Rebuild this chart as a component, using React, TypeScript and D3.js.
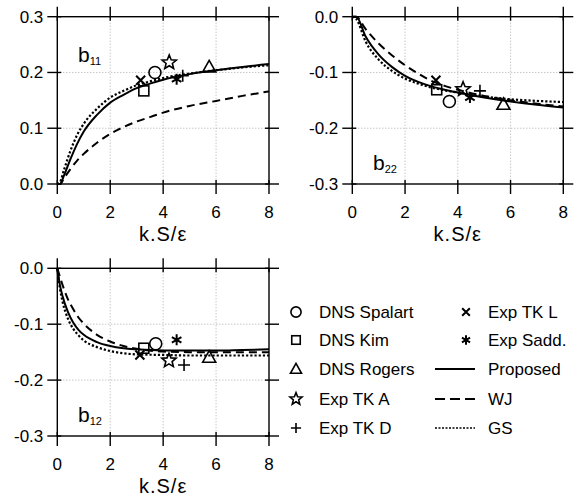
import React from "react";
import * as d3 from "d3";

// ---------- data ----------
const xTicks = [0, 2, 4, 6, 8];
const yTicksB11 = [0.0, 0.1, 0.2, 0.3];
const yTicksNeg = [0.0, -0.1, -0.2, -0.3];

// b11 curves
const b11X = [0, 0.1, 0.25, 0.5, 0.75, 1, 1.5, 2, 2.5, 3, 3.5, 4, 5, 6, 7, 8];
const b11Proposed = [0, 0, 0.015, 0.045, 0.072, 0.094, 0.124, 0.146, 0.16, 0.172, 0.18, 0.187, 0.197, 0.204, 0.21, 0.215];
const b11GS = [0, 0.003, 0.025, 0.06, 0.088, 0.108, 0.135, 0.155, 0.167, 0.177, 0.184, 0.19, 0.198, 0.204, 0.209, 0.213];
const b11WJ = [0, 0, 0.01, 0.027, 0.042, 0.054, 0.074, 0.09, 0.102, 0.112, 0.12, 0.128, 0.14, 0.149, 0.158, 0.166];

// b22 curves
const b22X = [0, 0.15, 0.5, 1, 1.5, 2, 2.5, 3, 3.5, 4, 5, 6, 7, 8];
const b22Proposed = [0, 0, -0.035, -0.068, -0.09, -0.106, -0.117, -0.125, -0.131, -0.136, -0.145, -0.152, -0.158, -0.163];
const b22GS = [0, -0.004, -0.044, -0.077, -0.097, -0.111, -0.12, -0.127, -0.132, -0.136, -0.143, -0.148, -0.151, -0.153];
const b22WJ = [0, 0, -0.022, -0.048, -0.069, -0.087, -0.102, -0.115, -0.124, -0.131, -0.142, -0.15, -0.156, -0.161];

// b12 curves
const b12X = [0, 0.1, 0.2, 0.4, 0.6, 0.8, 1, 1.5, 2, 2.5, 3, 4, 5, 6, 7, 8];
const b12Proposed = [0, -0.03, -0.05, -0.078, -0.097, -0.11, -0.119, -0.132, -0.139, -0.143, -0.145, -0.147, -0.147, -0.147, -0.146, -0.145];
const b12GS = [0, -0.036, -0.06, -0.09, -0.108, -0.12, -0.129, -0.141, -0.148, -0.152, -0.154, -0.155, -0.156, -0.156, -0.156, -0.156];
const b12WJ = [0, -0.015, -0.03, -0.055, -0.073, -0.088, -0.099, -0.119, -0.131, -0.139, -0.144, -0.149, -0.15, -0.15, -0.15, -0.15];

// experimental / DNS points: [x, value]
const seriesNames = ["DNS Spalart", "DNS Kim", "DNS Rogers", "Exp TK A", "Exp TK D", "Exp TK L", "Exp Sadd."];
const seriesSymbols = ["circle", "square", "triangle", "star", "plus", "cross", "asterisk"];
const b11Points = [[3.69, 0.2], [3.27, 0.167], [5.74, 0.21], [4.23, 0.218], [4.74, 0.194], [3.15, 0.186], [4.51, 0.188]];
const b22Points = [[3.68, -0.152], [3.2, -0.131], [5.73, -0.157], [4.2, -0.13], [4.84, -0.133], [3.17, -0.114], [4.46, -0.145]];
const b12Points = [[3.72, -0.135], [3.27, -0.143], [5.74, -0.159], [4.22, -0.165], [4.79, -0.173], [3.12, -0.155], [4.51, -0.128]];

const lineNames = ["Proposed", "WJ", "GS"];
const lineDash = ["", "8,5", "2.2,2"];
const legendDash = ["", "10,5", "2,1.5"];

const FONT = "'Liberation Sans', Arial, Helvetica, sans-serif";

function Marker({ type, x, y, s = 1 }: { type: string; x: number; y: number; s?: number }) {
  const sw = 1.6;
  const common = { fill: "none", stroke: "#000", strokeWidth: sw };
  if (type === "circle") return <circle cx={x} cy={y} r={6 * s} {...common} />;
  if (type === "square") return <rect x={x - 5 * s} y={y - 5 * s} width={10 * s} height={10 * s} {...common} />;
  if (type === "triangle") {
    const p = `${x},${y - 6.5 * s} ${x + 6.5 * s},${y + 5 * s} ${x - 6.5 * s},${y + 5 * s}`;
    return <polygon points={p} {...common} />;
  }
  if (type === "star") {
    const pts: string[] = [];
    for (let i = 0; i < 10; i++) {
      const r = (i % 2 === 0 ? 7.5 : 3.3) * s;
      const a = -Math.PI / 2 + (i * Math.PI) / 5;
      pts.push(`${x + r * Math.cos(a)},${y + r * Math.sin(a)}`);
    }
    return <polygon points={pts.join(" ")} {...common} strokeLinejoin="miter" />;
  }
  if (type === "plus")
    return <path d={`M${x - 6 * s},${y}H${x + 6 * s}M${x},${y - 6 * s}V${y + 6 * s}`} {...common} />;
  if (type === "cross") {
    const c = 4.5 * s;
    return <path d={`M${x - c},${y - c}L${x + c},${y + c}M${x - c},${y + c}L${x + c},${y - c}`} {...common} strokeWidth={2} />;
  }
  // asterisk
  const segs: string[] = [];
  for (let i = 0; i < 3; i++) {
    const a = Math.PI / 2 + (i * Math.PI) / 3;
    const dx = 5.5 * s * Math.cos(a);
    const dy = 5.5 * s * Math.sin(a);
    segs.push(`M${x - dx},${y - dy}L${x + dx},${y + dy}`);
  }
  return <path d={segs.join("")} {...common} strokeWidth={2} />;
}

type PanelProps = {
  left: number;
  right: number;
  top: number;
  bottom: number;
  yDomain: [number, number];
  yTicks: number[];
  xs: number[];
  curves: number[][];
  points: number[][];
  label: string;
  sub: string;
  labelX: number;
  labelY: number;
};

function Panel(p: PanelProps) {
  const x = d3.scaleLinear().domain([0, 8]).range([p.left, p.right]);
  const y = d3.scaleLinear().domain(p.yDomain).range([p.bottom, p.top]);
  const tl = 10;
  const yMin = Math.min(...p.yDomain);
  const yMax = Math.max(...p.yDomain);
  const line = d3
    .line<number>()
    .x((_, i) => x(p.xs[i]))
    .y((d) => y(d))
    .curve(d3.curveMonotoneX);
  return (
    <g>
      {xTicks
        .filter((t) => t > 0 && t < 8)
        .map((t) => (
          <line key={"gx" + t} x1={x(t)} x2={x(t)} y1={p.top} y2={p.bottom} stroke="#999" strokeWidth={0.8} strokeDasharray="1,2" />
        ))}
      {p.yTicks
        .filter((t) => t > yMin && t < yMax)
        .map((t) => (
          <line key={"gy" + t} x1={p.left} x2={p.right} y1={y(t)} y2={y(t)} stroke="#999" strokeWidth={0.8} strokeDasharray="1,2" />
        ))}
      <rect x={p.left} y={p.top} width={p.right - p.left} height={p.bottom - p.top} fill="none" stroke="#000" strokeWidth={1.4} />
      {xTicks.map((t) => (
        <g key={"tx" + t}>
          <line x1={x(t)} x2={x(t)} y1={p.top - tl} y2={p.top + 4} stroke="#000" strokeWidth={1.4} />
          <line x1={x(t)} x2={x(t)} y1={p.bottom - 4} y2={p.bottom + tl} stroke="#000" strokeWidth={1.4} />
          <text x={x(t)} y={p.bottom + 34} textAnchor="middle" fontSize={17} fontFamily={FONT}>
            {d3.format("d")(t)}
          </text>
        </g>
      ))}
      {p.yTicks.map((t) => (
        <g key={"ty" + t}>
          <line x1={p.left - tl} x2={p.left + 4} y1={y(t)} y2={y(t)} stroke="#000" strokeWidth={1.4} />
          <line x1={p.right - 4} x2={p.right + tl} y1={y(t)} y2={y(t)} stroke="#000" strokeWidth={1.4} />
          <text x={p.left - 14} y={y(t) + 6} textAnchor="end" fontSize={17} fontFamily={FONT}>
            {d3.format(".1f")(t).replace("−", "-")}
          </text>
        </g>
      ))}
      {p.curves.map((c, i) => (
        <path key={"c" + i} d={line(c) || ""} fill="none" stroke="#000" strokeWidth={i === 2 ? 2.2 : 2} strokeDasharray={lineDash[i]} />
      ))}
      {p.points.map((pt, i) => (
        <Marker key={"m" + i} type={seriesSymbols[i]} x={x(pt[0])} y={y(pt[1])} />
      ))}
      <text x={(p.left + p.right) / 2} y={p.bottom + 57} textAnchor="middle" fontSize={20} fontFamily={FONT} letterSpacing={1}>
        k.S/ε
      </text>
      <text x={p.labelX} y={p.labelY} fontSize={21} fontFamily={FONT}>
        {p.label}
        <tspan fontSize={11} dy={3}>
          {p.sub}
        </tspan>
      </text>
    </g>
  );
}

export default function App() {
  const legendRowsY = [312, 340, 369, 399, 428];
  return (
    <svg width={583} height={499} style={{ position: "absolute", left: 0, top: 0, background: "#fff" }}>
      <Panel
        left={57.3}
        right={269}
        top={16.7}
        bottom={184}
        yDomain={[0, 0.3]}
        yTicks={yTicksB11}
        xs={b11X}
        curves={[b11Proposed, b11WJ, b11GS]}
        points={b11Points}
        label="b"
        sub="11"
        labelX={78}
        labelY={62}
      />
      <Panel
        left={352.3}
        right={563.3}
        top={16.7}
        bottom={184}
        yDomain={[-0.3, 0]}
        yTicks={yTicksNeg}
        xs={b22X}
        curves={[b22Proposed, b22WJ, b22GS]}
        points={b22Points}
        label="b"
        sub="22"
        labelX={373}
        labelY={170}
      />
      <Panel
        left={57.3}
        right={269}
        top={268.3}
        bottom={436}
        yDomain={[-0.3, 0]}
        yTicks={yTicksNeg}
        xs={b12X}
        curves={[b12Proposed, b12WJ, b12GS]}
        points={b12Points}
        label="b"
        sub="12"
        labelX={78}
        labelY={422}
      />
      {seriesNames.slice(0, 5).map((n, i) => (
        <g key={"l1" + i}>
          <Marker type={seriesSymbols[i]} x={296} y={legendRowsY[i]} s={0.85} />
          <text x={319} y={legendRowsY[i] + 6} fontSize={17} fontFamily={FONT}>
            {n}
          </text>
        </g>
      ))}
      {seriesNames.slice(5).map((n, i) => (
        <g key={"l2" + i}>
          <Marker type={seriesSymbols[5 + i]} x={466} y={legendRowsY[i]} s={0.85} />
          <text x={488} y={legendRowsY[i] + 6} fontSize={17} fontFamily={FONT}>
            {n}
          </text>
        </g>
      ))}
      {lineNames.map((n, i) => (
        <g key={"l3" + i}>
          <line x1={435} x2={475} y1={legendRowsY[i + 2]} y2={legendRowsY[i + 2]} stroke="#000" strokeWidth={i === 2 ? 1.5 : 2} strokeDasharray={legendDash[i]} />
          <text x={488} y={legendRowsY[i + 2] + 6} fontSize={17} fontFamily={FONT}>
            {n}
          </text>
        </g>
      ))}
    </svg>
  );
}
